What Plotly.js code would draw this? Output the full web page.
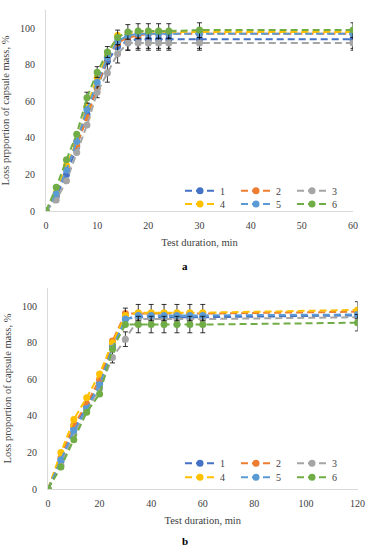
<!DOCTYPE html>
<html>
<head>
<meta charset="utf-8">
<script src="https://cdn.plot.ly/plotly-3.0.1.min.js"></script>
<style>html,body{margin:0;padding:0;background:#fff;}#chart{width:370px;height:550px;}</style>
</head>
<body>
<div id="chart"></div>
<script>
// ---- Data ----
var seriesNames = ['1', '2', '3', '4', '5', '6'];
var seriesColors = ['#4472C4', '#ED7D31', '#A5A5A5', '#FFC000', '#5B9BD5', '#70AD47'];

// Panel a
var timeA = [0, 2, 4, 6, 8, 10, 12, 14, 16, 18, 20, 22, 24, 30, 60];
var a1 = [0, 8, 20, 35, 53, 68, 82, 90, 93, 94, 94, 94, 94, 94, 94];
var a2 = [0, 9, 24, 36, 51, 67, 84, 92, 95, 96, 97, 97, 97, 97, 97];
var a3 = [0, 6, 16.5, 32, 47, 65, 75.5, 86, 92, 92, 92, 92, 92, 92, 92];
var a4 = [0, 10, 25, 38, 57, 73, 85, 96, 97, 98, 98, 98, 98, 98, 98];
var a5 = [0, 9.5, 22.5, 38, 55.5, 70.5, 84, 93, 96, 97, 97, 97, 97, 97, 97];
var a6 = [0, 13, 28, 42, 62, 76, 87, 95, 98, 98.5, 98.5, 98.5, 98.5, 99, 99];
var errA1 = [0, 0, 0, 0, 0, 0, 0, 0, 5, 5, 5, 5, 5, 5, 5];
var errA3 = [0, 0, 0, 0, 0, 3, 5, 5, 4, 4, 4, 4, 4, 4, 4];
var errA6 = [0, 0, 0, 0, 3, 3, 3, 4, 4, 4, 4, 4, 4, 4, 4];

// Panel b
var timeB = [0, 5, 10, 15, 20, 25, 30, 35, 40, 45, 50, 55, 60, 120];
var b1 = [0, 15, 33, 45, 58, 78, 93, 94, 94, 94, 94, 94, 94, 95];
var b2 = [0, 17, 35, 46.5, 60, 81, 96, 96, 96, 96, 96, 96, 96, 97];
var b3 = [0, 13, 30, 43, 55, 72, 82, 93, 93, 93, 93, 93, 93, 94];
var b4 = [0, 20, 38, 50, 63, 80, 95, 96.5, 96.5, 96.5, 96.5, 96.5, 96.5, 98];
var b5 = [0, 16, 32, 44, 57, 77, 93, 95, 95, 95, 95, 95, 95, 95.5];
var b6 = [0, 12, 27, 42, 52, 76.5, 90, 90, 90, 90, 90, 90, 90, 91];
var errB3 = [0, 0, 0, 0, 0, 3, 4, 0, 0, 0, 0, 0, 0, 0];
var errB4 = [0, 0, 0, 0, 0, 0, 4, 4.5, 4.5, 4.5, 4.5, 4.5, 4.5, 4.5];
var errB6 = [0, 0, 0, 0, 0, 0, 0, 4.5, 4.5, 4.5, 4.5, 4.5, 4.5, 4.5];

var xTitle = 'Test duration, min';
var yTitleA = 'Loss prpportion of capsule mass, %';
var yTitleB = 'Loss proportion of capsule mass, %';
var yTicks = [0, 20, 40, 60, 80, 100];

// ---- Build ----
var FONT = 'Liberation Serif, Times New Roman, serif';
var TXT = '#404040';
var seriesA = [a1, a2, a3, a4, a5, a6];
var seriesB = [b1, b2, b3, b4, b5, b6];
var errsA = [errA1, null, errA3, null, null, errA6];
var errsB = [null, null, errB3, errB4, null, errB6];
var legendsA = ['legend', 'legend', 'legend', 'legend2', 'legend2', 'legend2'];
var legendsB = ['legend3', 'legend3', 'legend3', 'legend4', 'legend4', 'legend4'];

function mk(xs, ys, i, err, xa, ya, lg) {
  var t = {
    x: xs, y: ys, type: 'scatter', mode: 'lines+markers', name: seriesNames[i],
    xaxis: xa, yaxis: ya, legend: lg,
    line: {color: seriesColors[i], width: 2, dash: '7px,4px'},
    marker: {color: seriesColors[i], size: 7, symbol: 'circle'}
  };
  if (err) {
    t.error_y = {type: 'data', array: err, visible: true, color: '#000000', thickness: 0.8, width: 2.5};
  }
  return t;
}
var data = [];
for (var i = 0; i < 6; i++) data.push(mk(timeA, seriesA[i], i, errsA[i], 'x', 'y', legendsA[i]));
for (var j = 0; j < 6; j++) data.push(mk(timeB, seriesB[j], j, errsB[j], 'x2', 'y2', legendsB[j]));

function ax(extra) {
  var o = {
    showline: true, linecolor: '#d9d9d9', linewidth: 1, showgrid: false, zeroline: false,
    ticks: '', tickfont: {family: FONT, size: 10, color: TXT}, automargin: false, fixedrange: true
  };
  for (var k in extra) o[k] = extra[k];
  return o;
}
function lg(x, y) {
  return {orientation: 'h', x: x, y: y, xanchor: 'left', yanchor: 'middle', xref: 'paper', yref: 'paper',
    entrywidth: 11, entrywidthmode: 'pixels', bgcolor: 'rgba(0,0,0,0)',
    font: {family: FONT, size: 10, color: TXT}, itemclick: false, itemdoubleclick: false};
}

var layout = {
  width: 370, height: 550,
  margin: {l: 0, r: 0, t: 0, b: 0},
  paper_bgcolor: '#ffffff', plot_bgcolor: '#ffffff',
  font: {family: FONT, size: 10, color: TXT},
  showlegend: true,
  xaxis: ax({domain: [46/370, 353/370], range: [0, 60], dtick: 10, anchor: 'y', ticklabelstandoff: 5,
    title: {text: xTitle, font: {family: FONT, size: 10.5, color: TXT}, standoff: 8}}),
  yaxis: ax({domain: [1 - 211/550, 1 - 10/550], range: [0, 110], tickvals: yTicks, anchor: 'x', ticklabelstandoff: 8,
    title: {text: yTitleA, font: {family: FONT, size: 10.5, color: TXT}, standoff: 8}}),
  xaxis2: ax({domain: [48/370, 357.5/370], range: [0, 120], dtick: 20, anchor: 'y2', ticklabelstandoff: 5,
    title: {text: xTitle, font: {family: FONT, size: 10.5, color: TXT}, standoff: 8}}),
  yaxis2: ax({domain: [1 - 489/550, 1 - 288/550], range: [0, 110], tickvals: yTicks, anchor: 'x2', ticklabelstandoff: 8,
    title: {text: yTitleB, font: {family: FONT, size: 10.5, color: TXT}, standoff: 8}}),
  legend: lg(180/370, 1 - 190.7/550),
  legend2: lg(180/370, 1 - 204/550),
  legend3: lg(180/370, 1 - 463.3/550),
  legend4: lg(180/370, 1 - 477.3/550),
  annotations: [
    {text: '<b>a</b>', x: 185/370, y: 1 - 266/550, xref: 'paper', yref: 'paper', showarrow: false,
     font: {family: FONT, size: 11, color: '#000'}, xanchor: 'center', yanchor: 'middle'},
    {text: '<b>b</b>', x: 185/370, y: 1 - 541/550, xref: 'paper', yref: 'paper', showarrow: false,
     font: {family: FONT, size: 11, color: '#000'}, xanchor: 'center', yanchor: 'middle'}
  ]
};

Plotly.newPlot('chart', data, layout, {displayModeBar: false, staticPlot: true});
</script>
</body>
</html>
